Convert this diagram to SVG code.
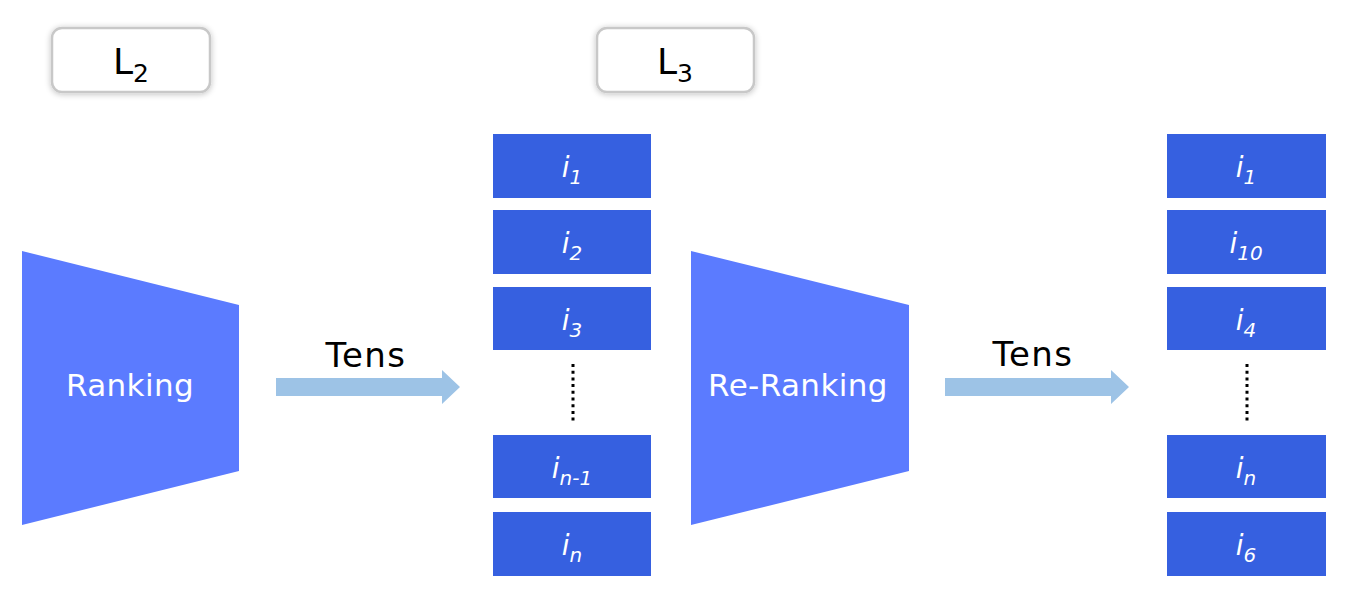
<svg xmlns="http://www.w3.org/2000/svg" width="1359" height="615" viewBox="0 0 1359 615">
<style>
.lbl{fill:#fff;stroke:#c8c8c8;stroke-width:2.5}
.lt{font-family:"DejaVu Sans",Verdana,sans-serif;font-size:36px;fill:#000;text-anchor:middle}
.trap{fill:#5B7BFF}
.tt{font-family:"DejaVu Sans",Verdana,sans-serif;font-size:31px;letter-spacing:0.4px;fill:#fff;text-anchor:middle}
.box{fill:#3660E0}
.bt{font-family:"DejaVu Sans",Verdana,sans-serif;font-size:28px;font-style:italic;fill:#fff;text-anchor:middle}
.arrow{fill:#9DC3E6}
.at{font-family:"DejaVu Sans",Verdana,sans-serif;font-size:34px;letter-spacing:1.5px;fill:#000;text-anchor:middle}
.dots{stroke:#000;stroke-width:3;stroke-dasharray:3,3.7}
</style>
<defs>
<filter id="sh" x="-20%" y="-30%" width="140%" height="160%">
<feGaussianBlur in="SourceAlpha" stdDeviation="3"/>
<feOffset dx="0" dy="1"/>
<feComponentTransfer><feFuncA type="linear" slope="0.25"/></feComponentTransfer>
<feMerge><feMergeNode/><feMergeNode in="SourceGraphic"/></feMerge>
</filter>
</defs>
<rect width="1359" height="615" fill="#fff"/>
<g id="L2">
<rect class="lbl" x="52" y="28" width="158" height="64" rx="10" filter="url(#sh)"/>
<text class="lt" x="131" y="74">L<tspan dy="8" font-size="25">2</tspan></text>
</g>
<g id="L3">
<rect class="lbl" x="597" y="28" width="157" height="64" rx="10" filter="url(#sh)"/>
<text class="lt" x="675" y="74">L<tspan dy="8" font-size="25">3</tspan></text>
</g>
<g id="ranking">
<polygon class="trap" points="22,251 239,305 239,471 22,525"/>
<text class="tt" x="130" y="396">Ranking</text>
</g>
<g id="reranking">
<polygon class="trap" points="691,251 909,305 909,471 691,525"/>
<text class="tt" x="798" y="396">Re-Ranking</text>
</g>
<g id="list1">
<g id="l1-1"><rect class="box" x="493" y="134" width="158" height="64"/><text class="bt" x="572" y="177">i<tspan dy="7" font-size="20">1</tspan></text></g>
<g id="l1-2"><rect class="box" x="493" y="210" width="158" height="64"/><text class="bt" x="572" y="253">i<tspan dy="7" font-size="20">2</tspan></text></g>
<g id="l1-3"><rect class="box" x="493" y="287" width="158" height="63"/><text class="bt" x="572" y="330">i<tspan dy="7" font-size="20">3</tspan></text></g>
<line class="dots" x1="573" y1="364" x2="573" y2="424"/>
<g id="l1-4"><rect class="box" x="493" y="435" width="158" height="63"/><text class="bt" x="572" y="478">i<tspan dy="7" font-size="20">n-1</tspan></text></g>
<g id="l1-5"><rect class="box" x="493" y="512" width="158" height="64"/><text class="bt" x="572" y="555">i<tspan dy="7" font-size="20">n</tspan></text></g>
</g>
<g id="list2">
<g id="l2-1"><rect class="box" x="1167" y="134" width="159" height="64"/><text class="bt" x="1246" y="177">i<tspan dy="7" font-size="20">1</tspan></text></g>
<g id="l2-2"><rect class="box" x="1167" y="210" width="159" height="64"/><text class="bt" x="1246" y="253">i<tspan dy="7" font-size="20">10</tspan></text></g>
<g id="l2-3"><rect class="box" x="1167" y="287" width="159" height="63"/><text class="bt" x="1246" y="330">i<tspan dy="7" font-size="20">4</tspan></text></g>
<line class="dots" x1="1247" y1="364" x2="1247" y2="424"/>
<g id="l2-4"><rect class="box" x="1167" y="435" width="159" height="63"/><text class="bt" x="1246" y="478">i<tspan dy="7" font-size="20">n</tspan></text></g>
<g id="l2-5"><rect class="box" x="1167" y="512" width="159" height="64"/><text class="bt" x="1246" y="555">i<tspan dy="7" font-size="20">6</tspan></text></g>
</g>
<g id="connectors">
<polygon class="arrow" points="276,378 442,378 442,370 460,387 442,404 442,396 276,396"/>
<text class="at" x="366" y="367">Tens</text>
<polygon class="arrow" points="945,378 1111,378 1111,370 1129,387 1111,404 1111,396 945,396"/>
<text class="at" x="1033" y="366">Tens</text>
</g>
</svg>
